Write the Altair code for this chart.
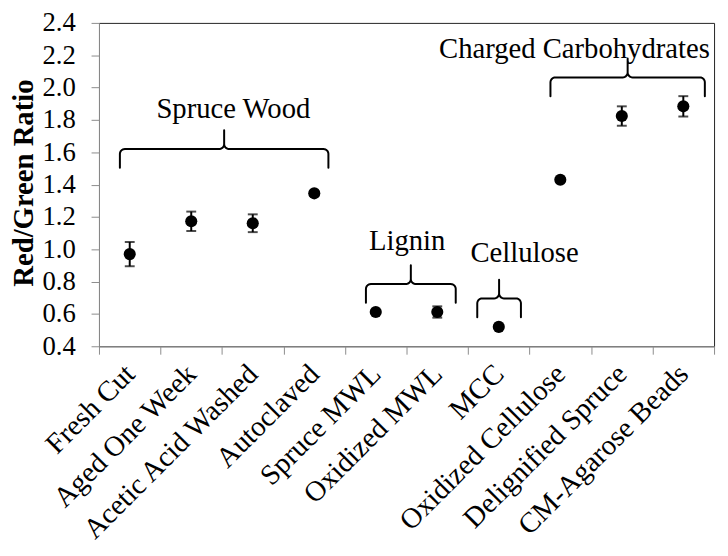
import json
import numpy as np
import pandas as pd
import altair as alt

# ---------------- data ----------------
categories = ["Fresh Cut", "Aged One Week", "Acetic Acid Washed", "Autoclaved",
              "Spruce MWL", "Oxidized MWL", "MCC", "Oxidized Cellulose",
              "Delignified Spruce", "CM-Agarose Beads"]
ratio = [0.970, 1.173, 1.161, 1.346, 0.612, 0.612, 0.520, 1.430, 1.824, 1.884]
err = [0.075, 0.060, 0.055, 0.015, 0.010, 0.035, 0.010, 0.010, 0.060, 0.063]

group_names = ["Spruce Wood", "Lignin", "Cellulose", "Charged Carbohydrates"]
brace_start = [0.34, 4.34, 6.15, 7.34]
brace_end = [3.73, 5.80, 6.86, 9.85]
brace_level = [1.620, 0.785, 0.696, 2.063]
label_x = [2.185, 5.01, 6.92, 7.73]
label_y = [1.812, 0.994, 0.922, 2.185]

# ---------------- layout ----------------
W, H = 622, 327
FONT = "Liberation Serif"
PX_X = W / 10.0   # pixels per category unit
PX_Y = H / 2.0    # pixels per ratio unit

pts = pd.DataFrame({
    "name": categories,
    "pos": [i + 0.5 for i in range(len(categories))],
    "ratio": ratio,
    "lo": [r - e for r, e in zip(ratio, err)],
    "hi": [r + e for r, e in zip(ratio, err)],
})


def brace_path(xa, xb, yt, r=5.0, drop=19.0, peak=19.0, n=8):
    xc = (xa + xb) / 2.0
    seq = []

    def add(x_units, dx_px, dy_px):
        seq.append((x_units + dx_px / PX_X, yt + dy_px / PX_Y))

    add(xa, 0, -drop)
    for a in np.linspace(np.pi, np.pi / 2, n):          # left end corner
        add(xa, r + r * np.cos(a), -r + r * np.sin(a))
    for a in np.linspace(-np.pi / 2, 0, n):             # rise to peak (left)
        add(xc, -r + r * np.cos(a), r + r * np.sin(a))
    add(xc, 0, peak)
    for a in np.linspace(np.pi, 3 * np.pi / 2, n):      # back down (right)
        add(xc, r + r * np.cos(a), r + r * np.sin(a))
    for a in np.linspace(np.pi / 2, 0, n):              # right end corner
        add(xb, -r + r * np.cos(a), -r + r * np.sin(a))
    add(xb, 0, -drop)
    return seq


rows = []
for g, xa, xb, yt in zip(group_names, brace_start, brace_end, brace_level):
    for k, (x, y) in enumerate(brace_path(xa, xb, yt)):
        rows.append({"group": g, "k": k, "x": x, "y": y})
braces = pd.DataFrame(rows)

labels = pd.DataFrame({"text": group_names, "x": label_x, "y": label_y})

xscale = alt.Scale(domain=[0, 10], nice=False, zero=False)
yscale = alt.Scale(domain=[0.4, 2.4], nice=False, zero=False)

label_expr = "datum.value < 10 ? " + json.dumps(categories) + "[datum.value] : ''"

x_axis = alt.Axis(values=list(range(11)), labelExpr=label_expr, grid=False,
                  labelAngle=-45, labelAlign="right", labelBaseline="middle",
                  labelOffset=31, labelPadding=15, labelOverlap=False,
                  labelFlush=False, labelBound=False, labelLimit=0,
                  labelFont=FONT, labelFontSize=29, labelColor="black",
                  tickSize=8, tickColor="#8c8c8c", domainColor="#8c8c8c",
                  title=None)
y_axis = alt.Axis(values=[round(0.4 + 0.2 * i, 1) for i in range(11)], format=".1f",
                  grid=False, labelFont=FONT, labelFontSize=27, labelColor="black",
                  labelPadding=16, labelOverlap=False, labelFlush=False,
                  labelBound=False, labelLimit=0,
                  tickSize=8, tickColor="#8c8c8c", domainColor="#8c8c8c",
                  title="Red/Green Ratio", titleFont=FONT, titleFontSize=29,
                  titleFontWeight="bold", titleColor="black", titleAngle=270,
                  titleX=-67, titleY=H / 2 - 2, titleAlign="center",
                  titleBaseline="alphabetic", titleLimit=0)

brace_layer = alt.Chart(braces).mark_line(color="black", strokeWidth=2,
                                           strokeCap="round", strokeJoin="round").encode(
    x=alt.X("x:Q", scale=xscale, axis=x_axis),
    y=alt.Y("y:Q", scale=yscale, axis=y_axis),
    detail="group:N",
    order=alt.Order("k:Q"),
)

err_layer = alt.Chart(pts).mark_errorbar(
    color="black", thickness=2,
    ticks={"size": 10, "thickness": 2, "color": "black"},
).encode(
    x=alt.X("pos:Q", scale=xscale, axis=x_axis),
    y=alt.Y("lo:Q", scale=yscale, axis=y_axis),
    y2="hi:Q",
)

point_layer = alt.Chart(pts).mark_circle(size=150, color="black", opacity=1).encode(
    x=alt.X("pos:Q", scale=xscale, axis=x_axis),
    y=alt.Y("ratio:Q", scale=yscale, axis=y_axis),
)

text_layer = alt.Chart(labels).mark_text(font=FONT, fontSize=29, color="black",
                                          align="center", baseline="alphabetic").encode(
    x=alt.X("x:Q", scale=xscale, axis=x_axis),
    y=alt.Y("y:Q", scale=yscale, axis=y_axis),
    text="text:N",
)

chart = alt.layer(brace_layer, err_layer, point_layer, text_layer).properties(
    width=W, height=H,
    autosize=alt.AutoSizeParams(type="none"),
    padding={"left": 92, "top": 12, "right": 6, "bottom": 209},
    background="white",
).configure_view(stroke="#222222", strokeWidth=1).configure_axis(
    labelFont=FONT, titleFont=FONT
)

chart.save("out.html", embed_options={"renderer": "svg", "actions": False})
